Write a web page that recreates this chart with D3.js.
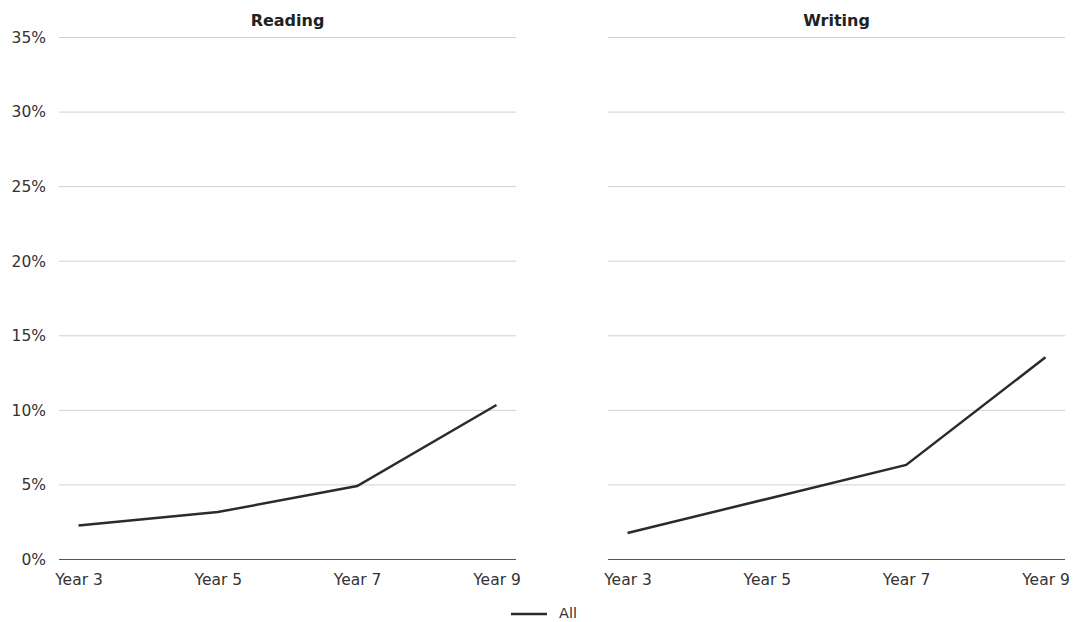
<!DOCTYPE html>
<html><head><meta charset="utf-8">
<script src="https://cdn.jsdelivr.net/npm/d3@7"></script>
<style>body{margin:0;background:#fff;}svg{display:block;font-family:"DejaVu Sans",sans-serif;}</style>
</head><body>
<svg id="chart" width="1077" height="622"></svg>
<script>
const categories = ["Year 3","Year 5","Year 7","Year 9"];
const panels = ["Reading","Writing"];
const readingValues = [2.28, 3.18, 4.93, 10.36];
const writingValues = [1.78, 4.06, 6.34, 13.56];
const yTicks = [0,5,10,15,20,25,30,35];
const seriesName = "All";

const svg = d3.select("#chart");
const y = d3.scaleLinear().domain([0,35]).range([559.5,37.5]);
const panelX = [[59,516],[608,1065]];
const data = [readingValues, writingValues];

panels.forEach((name,i)=>{
  const [x0,x1] = panelX[i];
  const x = d3.scalePoint().domain(categories).range([x0,x1]).padding(0.14);
  const g = svg.append("g");
  g.selectAll("line.grid").data(yTicks.filter(t=>t>0)).enter().append("line")
    .attr("x1",x0).attr("x2",x1).attr("y1",d=>y(d)).attr("y2",d=>y(d))
    .attr("stroke","#d0d0d0").attr("stroke-width",1);
  g.append("line").attr("x1",x0).attr("x2",x1).attr("y1",y(0)).attr("y2",y(0))
    .attr("stroke","#555").attr("stroke-width",1);
  if(i===0){
    g.selectAll("text.yl").data(yTicks).enter().append("text")
      .attr("x",46).attr("y",d=>y(d)).attr("dy","0.35em").attr("text-anchor","end")
      .attr("font-size",15.5).attr("fill","#333").text(d=>d+"%");
  }
  const xa = g.append("g").attr("transform",`translate(0,${y(0)})`)
    .call(d3.axisBottom(x).tickSize(0).tickPadding(14));
  xa.select(".domain").remove();
  xa.selectAll("text").attr("font-size",15.5).attr("fill","#333").attr("font-family","DejaVu Sans, sans-serif");
  g.append("text").attr("x",(x0+x1)/2).attr("y",20).attr("dy","0.35em").attr("text-anchor","middle")
    .attr("font-size",16).attr("font-weight","bold").attr("fill","#222").text(name);
  const line = d3.line().x((d,j)=>x(categories[j])).y(d=>y(d));
  g.append("path").datum(data[i]).attr("d",line).attr("fill","none")
    .attr("stroke","#2b2b2b").attr("stroke-width",2.5);
});

const lg = svg.append("g");
lg.append("line").attr("x1",511).attr("x2",547).attr("y1",614).attr("y2",614)
  .attr("stroke","#2b2b2b").attr("stroke-width",2.5);
lg.append("text").attr("x",559).attr("y",618).attr("font-size",14.5)
  .attr("fill","#333").text(seriesName);
</script>
</body></html>
